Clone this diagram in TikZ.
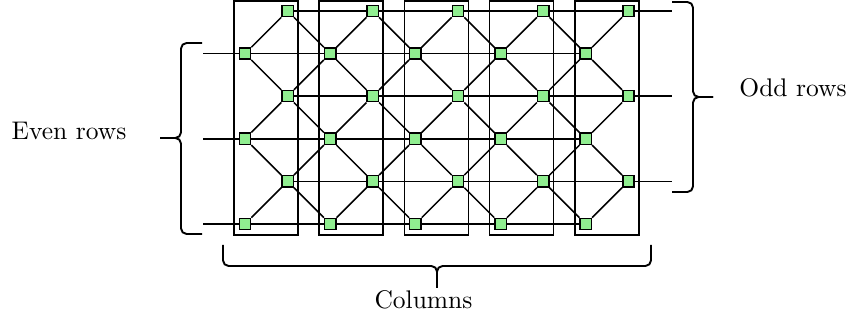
\documentclass[tikz,border=0pt]{standalone}
\definecolor{nodegreen}{RGB}{144,238,144}
\begin{document}
\begin{tikzpicture}[x=0.3922pt,y=-0.3922pt,
  sq/.style={draw=black, fill=nodegreen, minimum size=4.4pt, inner sep=0pt, line width=0.55pt},
  link/.style={line width=0.6pt},
  colbox/.style={line width=0.65pt},
  brc/.style={line width=0.75pt, rounded corners=2.2pt},
  lbl/.style={font=\fontsize{10}{12}\selectfont, anchor=base, inner sep=0pt}]
\useasboundingbox (0,0) rectangle (850,321);
% nodes
\foreach \k in {0,...,9}{
  \foreach \j in {0,...,5}{
    \pgfmathtruncatemacro{\parity}{mod(\k+\j,2)}
    \ifnum\parity=1
      \node[sq] (n-\k-\j) at (245+42.6*\k, 11+42.6*\j) {};
    \fi
  }
}
% diagonals
\foreach \k in {0,...,8}{
  \foreach \j in {0,...,5}{
    \pgfmathtruncatemacro{\parity}{mod(\k+\j,2)}
    \pgfmathtruncatemacro{\kk}{\k+1}
    \pgfmathtruncatemacro{\jd}{\j+1}
    \pgfmathtruncatemacro{\ju}{\j-1}
    \ifnum\parity=1
      \ifnum\j<5 \draw[link] (n-\k-\j) -- (n-\kk-\jd); \fi
      \ifnum\j>0 \draw[link] (n-\k-\j) -- (n-\kk-\ju); \fi
    \fi
  }
}
% even rows
\foreach \j in {1,3,5}{
  \coordinate (ls-\j) at (203, 11+42.6*\j);
  \draw[link] (ls-\j) -- (n-0-\j) -- (n-2-\j) -- (n-4-\j) -- (n-6-\j) -- (n-8-\j);
}
% odd rows
\foreach \j in {0,2,4}{
  \coordinate (re-\j) at (672, 11+42.6*\j);
  \draw[link] (n-1-\j) -- (n-3-\j) -- (n-5-\j) -- (n-7-\j) -- (n-9-\j) -- (re-\j);
}
% column boxes
\foreach \c in {0,...,4}{
  \draw[colbox] (234+85.2*\c,1) rectangle (298+85.2*\c,235);
}
% braces
\coordinate (lbt) at (202,43); \coordinate (lbb) at (202,234); \coordinate (lbtip) at (160,138);
\draw[brc] (lbt) -| (181,138) -- (lbtip);
\draw[brc] (lbb) -| (181,138) -- (lbtip);
\coordinate (rbt) at (672,2); \coordinate (rbb) at (672,192); \coordinate (rbtip) at (713,97);
\draw[brc] (rbt) -| (693,97) -- (rbtip);
\draw[brc] (rbb) -| (693,97) -- (rbtip);
\coordinate (bbl) at (223,245); \coordinate (bbr) at (651,245); \coordinate (bbtip) at (437,288);
\draw[brc] (bbl) |- (437,266) -- (bbtip);
\draw[brc] (bbr) |- (437,266) -- (bbtip);
% labels
\node[lbl] (even) at (69,140) {Even rows};
\node[lbl] (odd) at (793,97) {Odd rows};
\node[lbl] (cols) at (423.5,309) {Columns};
\end{tikzpicture}
\end{document}
